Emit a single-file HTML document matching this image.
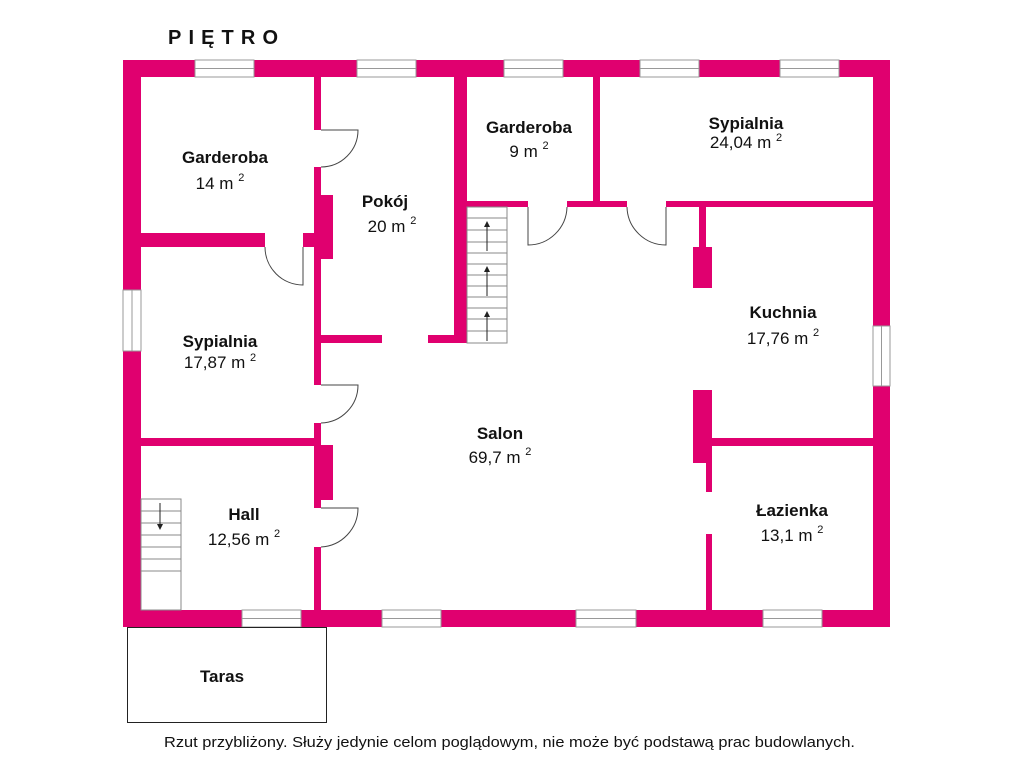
<!DOCTYPE html>
<html><head><meta charset="utf-8"><style>
html,body{margin:0;padding:0;background:#fff;width:1024px;height:768px;overflow:hidden}
svg{display:block}
text{font-family:"Liberation Sans",sans-serif;fill:#111}
.b{font-weight:bold;font-size:17px}
.r{font-size:17px}
.s{font-size:11px}
</style></head><body>
<svg width="1024" height="768" viewBox="0 0 1024 768">
<defs><marker id="ah" markerWidth="6" markerHeight="6" refX="3" refY="3" orient="auto"><path d="M0,0 L6,3 L0,6z" fill="#222"/></marker></defs>
<g fill="#e0006f">
<rect x="123" y="60" width="767" height="17"/>
<rect x="123" y="60" width="18" height="567"/>
<rect x="873" y="60" width="17" height="567"/>
<rect x="123" y="610" width="767" height="17"/>
<rect x="314" y="77" width="7" height="53"/>
<rect x="314" y="167" width="7" height="218"/>
<rect x="321" y="195" width="12" height="64"/>
<rect x="314" y="423" width="7" height="85"/>
<rect x="321" y="445" width="12" height="55"/>
<rect x="314" y="547" width="7" height="63"/>
<rect x="141" y="233" width="124" height="14"/>
<rect x="303" y="233" width="11" height="14"/>
<rect x="141" y="438" width="173" height="8"/>
<rect x="321" y="335" width="61" height="8"/>
<rect x="428" y="335" width="26" height="8"/>
<rect x="454" y="77" width="13" height="266"/>
<rect x="467" y="201" width="61" height="6"/>
<rect x="567" y="201" width="60" height="6"/>
<rect x="666" y="201" width="207" height="6"/>
<rect x="593" y="77" width="7" height="130"/>
<rect x="699" y="207" width="7" height="40"/>
<rect x="693" y="247" width="19" height="41"/>
<rect x="693" y="390" width="19" height="73"/>
<rect x="712" y="438" width="161" height="8"/>
<rect x="706" y="463" width="6" height="29"/>
<rect x="706" y="534" width="6" height="76"/>
</g>
<g fill="#fff" stroke="#999" stroke-width="1">
<rect x="195" y="60" width="59" height="17"/><line x1="195" y1="68.5" x2="254" y2="68.5"/>
<rect x="357" y="60" width="59" height="17"/><line x1="357" y1="68.5" x2="416" y2="68.5"/>
<rect x="504" y="60" width="59" height="17"/><line x1="504" y1="68.5" x2="563" y2="68.5"/>
<rect x="640" y="60" width="59" height="17"/><line x1="640" y1="68.5" x2="699" y2="68.5"/>
<rect x="780" y="60" width="59" height="17"/><line x1="780" y1="68.5" x2="839" y2="68.5"/>
<rect x="242" y="610" width="59" height="17"/><line x1="242" y1="618.5" x2="301" y2="618.5"/>
<rect x="382" y="610" width="59" height="17"/><line x1="382" y1="618.5" x2="441" y2="618.5"/>
<rect x="576" y="610" width="60" height="17"/><line x1="576" y1="618.5" x2="636" y2="618.5"/>
<rect x="763" y="610" width="59" height="17"/><line x1="763" y1="618.5" x2="822" y2="618.5"/>
<rect x="123" y="290" width="18" height="61"/><line x1="132" y1="290" x2="132" y2="351"/>
<rect x="873" y="326" width="17" height="60"/><line x1="881.5" y1="326" x2="881.5" y2="386"/>
</g>
<g fill="none" stroke="#444" stroke-width="1">
<path d="M321,130 H358 A37,37 0 0 1 321,167"/>
<path d="M321,385 H358 A38,38 0 0 1 321,423"/>
<path d="M321,508 H358 A39,39 0 0 1 321,547"/>
<path d="M303,247 V285 A38,38 0 0 1 265,247"/>
<path d="M528,207 V245 A39,39 0 0 0 567,207"/>
<path d="M666,207 V245 A39,39 0 0 1 627,207"/>
</g>
<g fill="none" stroke="#888" stroke-width="1">
<rect x="467" y="207" width="40" height="136"/>
<path d="M467,218H507M467,230H507M467,242H507M467,253H507M467,264H507M467,275H507M467,286H507M467,297H507M467,308H507M467,319H507M467,331H507"/>
<rect x="141" y="499" width="40" height="111"/>
<path d="M141,511H181M141,523H181M141,535H181M141,547H181M141,559H181M141,571H181"/>
</g>
<g stroke="#222" stroke-width="1">
<line x1="487" y1="251" x2="487" y2="224" marker-end="url(#ah)"/>
<line x1="487" y1="296" x2="487" y2="269" marker-end="url(#ah)"/>
<line x1="487" y1="341" x2="487" y2="314" marker-end="url(#ah)"/>
<line x1="160" y1="503" x2="160" y2="527" marker-end="url(#ah)"/>
</g>
<rect x="127.5" y="627.5" width="199" height="95" fill="none" stroke="#222" stroke-width="1"/>
<text x="168" y="44" font-weight="bold" font-size="20" textLength="110" lengthAdjust="spacing">PIĘTRO</text>
<g text-anchor="middle">
<text class="b" x="225" y="163">Garderoba</text>
<text class="r" x="220" y="189">14 m <tspan class="s" dy="-8">2</tspan></text>
<text class="b" x="385" y="207">Pokój</text>
<text class="r" x="392" y="232">20 m <tspan class="s" dy="-8">2</tspan></text>
<text class="b" x="529" y="133">Garderoba</text>
<text class="r" x="529" y="157">9 m <tspan class="s" dy="-8">2</tspan></text>
<text class="b" x="746" y="129" font-size="15">Sypialnia</text>
<text class="r" x="746" y="148" font-size="15">24,04 m <tspan class="s" dy="-7">2</tspan></text>
<text class="b" x="220" y="347" font-size="15">Sypialnia</text>
<text class="r" x="220" y="368" font-size="15">17,87 m <tspan class="s" dy="-7">2</tspan></text>
<text class="b" x="783" y="318">Kuchnia</text>
<text class="r" x="783" y="344">17,76 m <tspan class="s" dy="-8">2</tspan></text>
<text class="b" x="500" y="439">Salon</text>
<text class="r" x="500" y="463">69,7 m <tspan class="s" dy="-8">2</tspan></text>
<text class="b" x="244" y="520">Hall</text>
<text class="r" x="244" y="545">12,56 m <tspan class="s" dy="-8">2</tspan></text>
<text class="b" x="792" y="516">Łazienka</text>
<text class="r" x="792" y="541">13,1 m <tspan class="s" dy="-8">2</tspan></text>
<text class="b" x="222" y="682">Taras</text>
</g>
<text x="164" y="747" font-size="15" textLength="691" lengthAdjust="spacingAndGlyphs">Rzut przybliżony. Służy jedynie celom poglądowym, nie może być podstawą prac budowlanych.</text>
</svg>
</body></html>
